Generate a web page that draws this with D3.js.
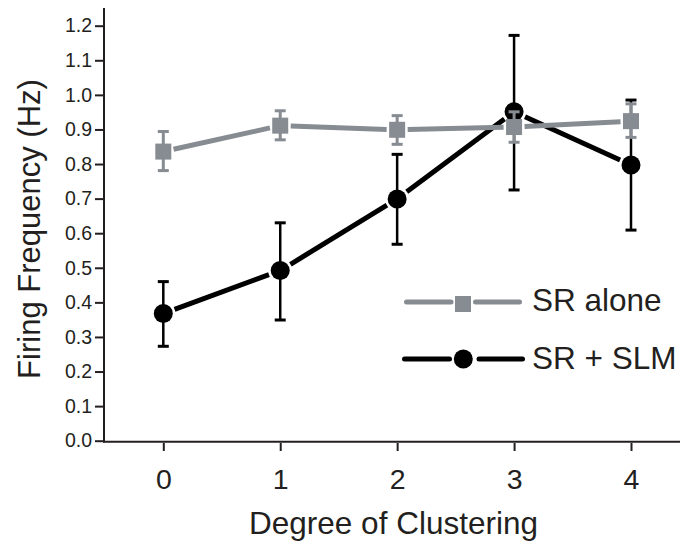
<!DOCTYPE html>
<html>
<head>
<meta charset="utf-8">
<script src="https://cdn.jsdelivr.net/npm/d3@7"></script>
<style>
  html, body { margin: 0; padding: 0; background: #fff; }
  svg { display: block; font-family: "Liberation Sans", Arial, Helvetica, sans-serif; }
</style>
</head>
<body>
<svg id="chart" width="680" height="545"></svg>
<script>
// ---- data ----
const categories = [0, 1, 2, 3, 4];
const yTickValues = [0, 0.1, 0.2, 0.3, 0.4, 0.5, 0.6, 0.7, 0.8, 0.9, 1.0, 1.1, 1.2];
const seriesNames = ["SR alone", "SR + SLM"];

const srAloneMean  = [0.836, 0.911, 0.899, 0.907, 0.924];
const srAloneUpper = [0.894, 0.954, 0.940, 0.951, 0.974];
const srAloneLower = [0.781, 0.870, 0.857, 0.863, 0.877];

const srSlmMean  = [0.368, 0.492, 0.699, 0.951, 0.797];
const srSlmUpper = [0.460, 0.630, 0.828, 1.172, 0.985];
const srSlmLower = [0.273, 0.349, 0.568, 0.725, 0.609];

const xTitle = "Degree of Clustering";
const yTitle = "Firing Frequency (Hz)";

// ---- styles ----
const GRAY = "#878c92";
const BLACK = "#000000";
const TEXT = "#231f20";

const svg = d3.select("#chart");

const x = d3.scalePoint().domain(categories).range([163.3, 631]);
const y = d3.scaleLinear().domain([0, 1.2]).range([440.7, 25.7]);

// ---- axes ----
const yAxis = svg.append("g")
  .attr("transform", "translate(104,0)")
  .call(d3.axisLeft(y).tickValues(yTickValues).tickSize(9).tickPadding(3)
        .tickFormat(d3.format(".1f")));
yAxis.select(".domain").remove();
yAxis.selectAll(".tick line").attr("stroke", TEXT).attr("stroke-width", 2);
yAxis.selectAll(".tick text").attr("fill", TEXT).attr("font-size", 19.5)
  .attr("font-family", "Liberation Sans, Arial, sans-serif");
svg.append("line").attr("x1", 104).attr("x2", 104).attr("y1", 8).attr("y2", 442.5)
  .attr("stroke", TEXT).attr("stroke-width", 2);

const xAxis = svg.append("g")
  .attr("transform", "translate(0,443)")
  .call(d3.axisBottom(x).tickSize(8).tickSizeOuter(0));
xAxis.select(".domain").remove();
xAxis.selectAll(".tick line").attr("stroke", TEXT).attr("stroke-width", 2);
xAxis.selectAll(".tick text").attr("fill", TEXT).attr("font-size", 28.5)
  .attr("y", 45.5).attr("dy", 0)
  .attr("font-family", "Liberation Sans, Arial, sans-serif");
svg.append("line").attr("x1", 103).attr("x2", 680).attr("y1", 441.7).attr("y2", 441.7)
  .attr("stroke", TEXT).attr("stroke-width", 2);

// titles
svg.append("text").attr("x", 393.5).attr("y", 534).attr("text-anchor", "middle")
  .attr("font-size", 31.5).attr("fill", TEXT).text(xTitle);
svg.append("text").attr("transform", "translate(40,229) rotate(-90)")
  .attr("text-anchor", "middle").attr("font-size", 31).attr("fill", TEXT).text(yTitle);

// ---- helpers ----
function drawErrorBars(g, mean, upper, lower, color, width) {
  categories.forEach((c, i) => {
    const cx = x(c);
    g.append("line").attr("x1", cx).attr("x2", cx).attr("y1", y(upper[i])).attr("y2", y(lower[i]))
      .attr("stroke", color).attr("stroke-width", width);
    [upper[i], lower[i]].forEach(v => {
      g.append("line").attr("x1", cx - 5.5).attr("x2", cx + 5.5).attr("y1", y(v)).attr("y2", y(v))
        .attr("stroke", color).attr("stroke-width", 3);
    });
  });
}
function drawSegments(g, mean, color, gap) {
  for (let i = 0; i < categories.length - 1; i++) {
    const x1 = x(categories[i]), y1 = y(mean[i]);
    const x2 = x(categories[i + 1]), y2 = y(mean[i + 1]);
    const dx = x2 - x1, dy = y2 - y1, len = Math.hypot(dx, dy);
    const ux = dx / len, uy = dy / len;
    g.append("line")
      .attr("x1", x1 + ux * gap).attr("y1", y1 + uy * gap)
      .attr("x2", x2 - ux * gap).attr("y2", y2 - uy * gap)
      .attr("stroke", color).attr("stroke-width", 5);
  }
}

// ---- SR + SLM (black) ----
const gB = svg.append("g");
drawErrorBars(gB, srSlmMean, srSlmUpper, srSlmLower, BLACK, 2.5);
drawSegments(gB, srSlmMean, BLACK, 12);
gB.selectAll("circle").data(srSlmMean).join("circle")
  .attr("cx", (d, i) => x(categories[i])).attr("cy", d => y(d)).attr("r", 9.5)
  .attr("fill", BLACK);

// ---- SR alone (gray) ----
const gG = svg.append("g");
drawErrorBars(gG, srAloneMean, srAloneUpper, srAloneLower, GRAY, 3);
drawSegments(gG, srAloneMean, GRAY, 10.5);
gG.selectAll("rect").data(srAloneMean).join("rect")
  .attr("x", (d, i) => x(categories[i]) - 8).attr("y", d => y(d) - 8)
  .attr("width", 16).attr("height", 16).attr("fill", GRAY);

// ---- legend ----
const legend = svg.append("g");
// gray
legend.append("line").attr("x1", 406.5).attr("x2", 451).attr("y1", 302).attr("y2", 302)
  .attr("stroke", GRAY).attr("stroke-width", 5).attr("stroke-linecap", "round");
legend.append("line").attr("x1", 475.5).attr("x2", 519.5).attr("y1", 302).attr("y2", 302)
  .attr("stroke", GRAY).attr("stroke-width", 5).attr("stroke-linecap", "round");
legend.append("rect").attr("x", 455).attr("y", 296).attr("width", 16).attr("height", 16).attr("fill", GRAY);
legend.append("text").attr("x", 532).attr("y", 310.5).attr("font-size", 31.5).attr("fill", TEXT).text(seriesNames[0]);
// black
legend.append("line").attr("x1", 404.5).attr("x2", 449.5).attr("y1", 359).attr("y2", 359)
  .attr("stroke", BLACK).attr("stroke-width", 5).attr("stroke-linecap", "round");
legend.append("line").attr("x1", 479).attr("x2", 522.5).attr("y1", 359).attr("y2", 359)
  .attr("stroke", BLACK).attr("stroke-width", 5).attr("stroke-linecap", "round");
legend.append("circle").attr("cx", 463.3).attr("cy", 359).attr("r", 9.5).attr("fill", BLACK);
legend.append("text").attr("x", 532).attr("y", 368.5).attr("font-size", 31.5).attr("fill", TEXT).text(seriesNames[1]);
</script>
</body>
</html>
